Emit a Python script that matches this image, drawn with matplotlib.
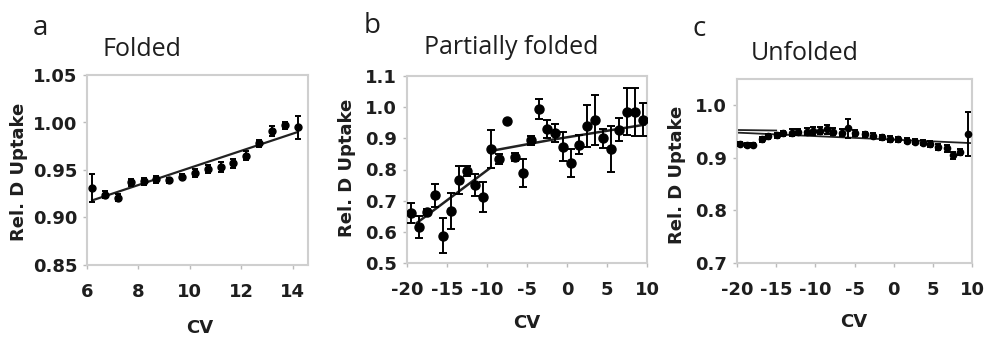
import matplotlib
matplotlib.use("Agg")
import matplotlib.pyplot as plt

plt.rcParams["axes.unicode_minus"] = False

# ---------------- data ----------------
# Panel a: Folded
a_cv = [6.2, 6.7, 7.2, 7.7, 8.2, 8.7, 9.2, 9.7, 10.2, 10.7, 11.2, 11.7, 12.2, 12.7, 13.2, 13.7, 14.2]
a_up = [0.931, 0.924, 0.921, 0.937, 0.938, 0.940, 0.939, 0.943, 0.947, 0.951, 0.953, 0.957,
        0.965, 0.978, 0.991, 0.997, 0.995]
a_err = [0.015, 0.004, 0.004, 0.004, 0.004, 0.004, 0.003, 0.003, 0.004, 0.004, 0.005, 0.005,
         0.005, 0.004, 0.005, 0.004, 0.012]
a_fit_x = [6.2, 14.2]
a_fit_y = [0.918, 0.990]

# Panel b: Partially folded
b_cv = [-19.5, -18.5, -17.5, -16.5, -15.5, -14.5, -13.5, -12.5, -11.5, -10.5,
        -9.5, -8.5, -7.5, -6.5, -5.5, -4.5, -3.5, -2.5, -1.5, -0.5,
        0.5, 1.5, 2.5, 3.5, 4.5, 5.5, 6.5, 7.5, 8.5, 9.5]
b_up = [0.660, 0.616, 0.664, 0.718, 0.587, 0.667, 0.766, 0.795, 0.750, 0.712,
        0.866, 0.834, 0.956, 0.840, 0.790, 0.894, 0.994, 0.930, 0.917, 0.873,
        0.820, 0.880, 0.940, 0.960, 0.900, 0.866, 0.927, 0.985, 0.985, 0.960]
b_err = [0.032, 0.036, 0.010, 0.037, 0.056, 0.057, 0.045, 0.015, 0.035, 0.047,
         0.060, 0.015, 0.000, 0.012, 0.045, 0.015, 0.032, 0.028, 0.030, 0.046,
         0.045, 0.030, 0.068, 0.080, 0.030, 0.073, 0.037, 0.075, 0.078, 0.054]
b_fit1_x = [-18.8, -9.6]
b_fit1_y = [0.628, 0.805]
b_fit2_x = [-9.0, -2.0, 10.0]
b_fit2_y = [0.862, 0.895, 0.945]

# Panel c: Unfolded
c_cv = [-19.6, -18.7, -17.9, -16.8, -16.0, -14.9, -14.1, -13.0, -12.2, -11.1,
        -10.3, -9.4, -8.5, -7.7, -6.6, -5.8, -4.9, -3.7, -2.6, -1.5,
        -0.5, 0.6, 1.7, 2.7, 3.8, 4.7, 5.7, 6.8, 7.6, 8.5, 9.5]
c_up = [0.927, 0.924, 0.924, 0.935, 0.941, 0.943, 0.947, 0.948, 0.949, 0.950,
        0.951, 0.952, 0.954, 0.950, 0.948, 0.956, 0.947, 0.945, 0.942, 0.939,
        0.936, 0.935, 0.933, 0.931, 0.929, 0.927, 0.921, 0.918, 0.905, 0.911, 0.945]
c_err = [0.004, 0.004, 0.004, 0.005, 0.005, 0.005, 0.005, 0.006, 0.006, 0.006,
         0.007, 0.007, 0.008, 0.006, 0.006, 0.018, 0.006, 0.005, 0.005, 0.005,
         0.005, 0.005, 0.005, 0.005, 0.005, 0.006, 0.006, 0.007, 0.007, 0.005, 0.042]
c_fit1_x = [-20.0, 10.0]
c_fit1_y = [0.948, 0.928]
c_fit2_x = [-20.0, -15.0]
c_fit2_y = [0.953, 0.952]

# ---------------- figure ----------------
W, H = 985, 337
fig = plt.figure(figsize=(W / 100, H / 100), dpi=100)

def box(l, r, t, b):
    return [l / W, (H - b) / H, (r - l) / W, (b - t) / H]

frame_col = "#cfcfcf"
txt_col = "#1e1e1e"

def style(ax):
    for s in ax.spines.values():
        s.set_color(frame_col)
        s.set_linewidth(1.5)
    ax.tick_params(direction="out", length=3, width=1, color="#bbbbbb")
    ax.tick_params(axis="x", pad=10)
    ax.tick_params(axis="y", pad=4)
    for lab in ax.get_xticklabels() + ax.get_yticklabels():
        lab.set_fontfamily("DejaVu Sans")
        lab.set_fontweight("bold")
        lab.set_fontsize(13)
        lab.set_color(txt_col)

def draw(ax, x, y, e, ms, capsize):
    ax.errorbar(x, y, yerr=e, fmt="o", color="black", ms=ms, elinewidth=1.4,
                capsize=capsize, capthick=1.4, zorder=3)

# panel a
axa = fig.add_axes(box(87, 308, 75, 265))
draw(axa, a_cv, a_up, a_err, 5, 2.5)
axa.plot(a_fit_x, a_fit_y, color="#222222", lw=1.6, zorder=2)
axa.set_xlim(6, 14.6)
axa.set_ylim(0.85, 1.05)
axa.set_xticks([6, 8, 10, 12, 14])
axa.set_yticks([0.85, 0.90, 0.95, 1.00, 1.05])
axa.set_yticklabels(["0.85", "0.90", "0.95", "1.00", "1.05"])
style(axa)

# panel b
axb = fig.add_axes(box(407, 647, 76, 263))
draw(axb, b_cv, b_up, b_err, 6.5, 3)
axb.plot(b_fit1_x, b_fit1_y, color="#222222", lw=1.8, zorder=2)
axb.plot(b_fit2_x, b_fit2_y, color="#222222", lw=1.8, zorder=2)
axb.set_xlim(-20, 10)
axb.set_ylim(0.5, 1.1)
axb.set_xticks([-20, -15, -10, -5, 0, 5, 10])
axb.set_yticks([0.5, 0.6, 0.7, 0.8, 0.9, 1.0, 1.1])
axb.set_yticklabels(["0.5", "0.6", "0.7", "0.8", "0.9", "1.0", "1.1"])
style(axb)

# panel c
axc = fig.add_axes(box(737, 972, 79, 263))
draw(axc, c_cv, c_up, c_err, 4.5, 2)
axc.plot(c_fit1_x, c_fit1_y, color="#222222", lw=1.3, zorder=2)
axc.plot(c_fit2_x, c_fit2_y, color="#222222", lw=1.3, zorder=2)
axc.set_xlim(-20, 10)
axc.set_ylim(0.7, 1.05)
axc.set_xticks([-20, -15, -10, -5, 0, 5, 10])
axc.set_yticks([0.7, 0.8, 0.9, 1.0])
axc.set_yticklabels(["0.7", "0.8", "0.9", "1.0"])
style(axc)

# axis labels
lab_font = dict(family="DejaVu Sans", weight="bold", size=13, color=txt_col)
for xc, yc in [(19, 172), (347, 168), (677, 175)]:
    fig.text(xc / W, 1 - yc / H, "Rel. D Uptake", rotation=90, ha="center", va="center", **lab_font)
for xc, yc in [(200, 328), (527, 323), (854, 322)]:
    fig.text(xc / W, 1 - yc / H, "CV", ha="center", va="center", **lab_font)

# titles and panel letters
title_font = dict(family="Open Sans", size=18, color=txt_col)
fig.text(142 / W, 1 - 50 / H, "Folded", ha="center", va="center", **title_font)
fig.text(511 / W, 1 - 47 / H, "Partially folded", ha="center", va="center", **title_font)
fig.text(805 / W, 1 - 53 / H, "Unfolded", ha="center", va="center", **title_font)
letter_font = dict(family="Open Sans", size=20, color=txt_col)
fig.text(40 / W, 1 - 28 / H, "a", ha="center", va="center", **letter_font)
fig.text(372 / W, 1 - 26 / H, "b", ha="center", va="center", **letter_font)
fig.text(699 / W, 1 - 29 / H, "c", ha="center", va="center", **letter_font)

fig.savefig("out.png", dpi=100)
